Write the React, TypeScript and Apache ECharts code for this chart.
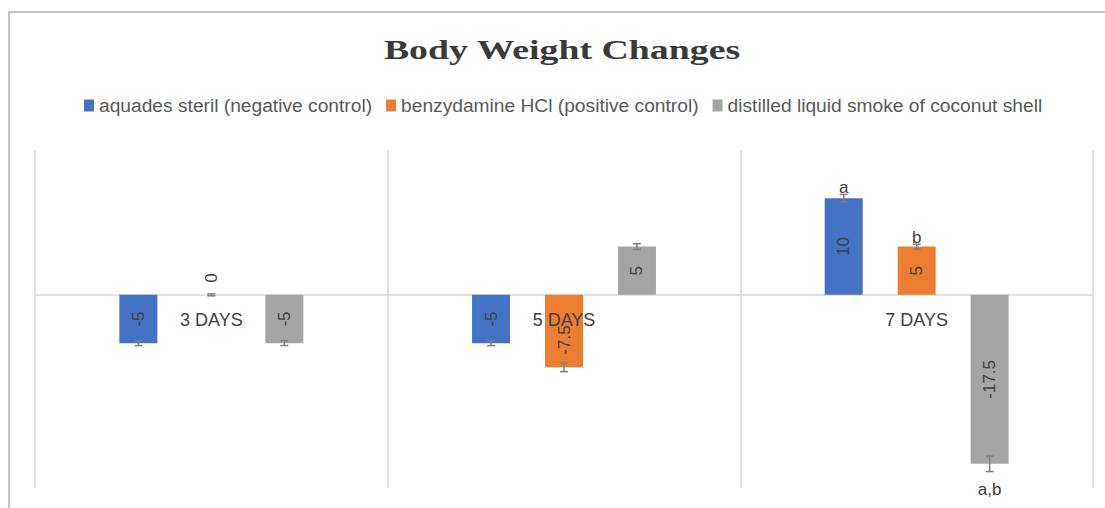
import React, { useEffect, useRef } from "react";
import * as echarts from "echarts";

const title = "Body Weight Changes";
const categories = ["3 DAYS", "5 DAYS", "7 DAYS"];
const seriesNames = [
  "aquades steril (negative control)",
  "benzydamine HCl (positive control)",
  "distilled liquid smoke of coconut shell",
];
const negativeControl = [-5, -5, 10];
const positiveControl = [0, -7.5, 5];
const liquidSmoke = [-5, 5, -17.5];
const negativeErr = [0.25, 0.25, 0.4];
const positiveErr = [0.1, 0.45, 0.25];
const smokeErr = [0.25, 0.3, 0.8];
const negativeNotes = ["", "", "a"];
const positiveNotes = ["", "", "b"];
const smokeNotes = ["", "", "a,b"];

const colors = ["#4472C4", "#ED7D31", "#A5A5A5"];
const BAR_W = 38;
const BAR_GAP = 0.92;

export default function App() {
  const ref = useRef<HTMLDivElement>(null);
  useEffect(() => {
    if (!ref.current) return;
    const chart = echarts.init(ref.current, null, { renderer: "svg" });
    const values = [negativeControl, positiveControl, liquidSmoke];
    const errs = [negativeErr, positiveErr, smokeErr];
    const notes = [negativeNotes, positiveNotes, smokeNotes];
    const rows: any[] = [];
    values.forEach((vals, si) =>
      vals.forEach((v, ci) => rows.push([ci, si, v, errs[si][ci], notes[si][ci]]))
    );
    const labelFont = { fontFamily: "Liberation Sans", fontSize: 17, color: "#404040" };
    const barSeries = values.map((vals, si) => ({
      type: "bar",
      name: seriesNames[si],
      barWidth: BAR_W,
      barGap: `${BAR_GAP * 100}%`,
      itemStyle: { color: colors[si] },
      z: 2,
      data: vals.map((v) => {
        if (v === 0) {
          return {
            value: v,
            label: { position: "top", distance: 12, align: "left", verticalAlign: "middle" },
          };
        }
        // label sitting under the category text is nudged down, as in the original
        if (v < 0 && si === 1) {
          return { value: v, label: { offset: [-9, 0] } };
        }
        return v;
      }),
      label: {
        show: true,
        position: "inside",
        rotate: 90,
        ...labelFont,
      },
    }));
    chart.setOption({
      animation: false,
      color: colors,
      legend: {
        top: 91,
        left: 79,
        itemWidth: 10,
        itemHeight: 12,
        itemGap: 14,
        itemTextGap: 4,
        icon: "rect",
        textStyle: { fontFamily: "Liberation Sans", fontSize: 19.2, color: "#595959" },
        data: seriesNames,
      },
      graphic: [
        {
          type: "rect",
          shape: { x: 9, y: 12, width: 1200, height: 600 },
          style: { fill: "none", stroke: "#c4c4c4", lineWidth: 2 },
          silent: true,
        },
        {
          type: "text",
          x: 562,
          y: 50,
          scaleX: 1.4,
          style: {
            text: title,
            align: "center",
            verticalAlign: "middle",
            fontFamily: "Liberation Serif",
            fontWeight: "bold",
            fontSize: 27,
            fill: "#3a3a3a",
          },
        },
      ],
      grid: { left: 35, right: 12, top: 150, bottom: 20, containLabel: false, outerBoundsMode: "none" },
      xAxis: {
        type: "category",
        data: categories,
        axisLine: { show: true, onZero: true, lineStyle: { color: "#d9d9d9", width: 1.5 } },
        axisTick: { show: false },
        splitLine: { show: true, lineStyle: { color: "#d9d9d9", width: 1.5 } },
        axisLabel: { show: false },
      },
      yAxis: {
        type: "value",
        min: -20,
        max: 15,
        interval: 5,
        show: false,
        splitLine: { show: false },
      },
      series: [
        ...barSeries,
        {
          type: "custom",
          name: "categoryLabels",
          z: 6,
          data: categories.map((c, i) => [i, 0]),
          renderItem: (params: any, api: any) => {
            const p = api.coord([api.value(0), api.value(1)]);
            return {
              type: "text",
              style: {
                text: categories[params.dataIndex],
                x: p[0],
                y: p[1] + 25,
                align: "center",
                verticalAlign: "middle",
                fontFamily: "Liberation Sans",
                fontSize: 18,
                fill: "#404040",
              },
            };
          },
        },
        {
          type: "custom",
          name: "errors",
          z: 5,
          data: rows,
          renderItem: (params: any, api: any) => {
            const row = rows[params.dataIndex];
            const ci = api.value(0);
            const si = api.value(1);
            const v = api.value(2);
            const e = api.value(3);
            const note = row[4];
            const center = api.coord([ci, v]);
            const x = center[0] + (si - 1) * BAR_W * (1 + BAR_GAP);
            const top = api.coord([ci, v + e])[1];
            const bot = api.coord([ci, v - e])[1];
            const st = { stroke: "#7f7f7f", lineWidth: 1.5 };
            const children: any[] = [
              { type: "line", shape: { x1: x, y1: top, x2: x, y2: bot }, style: st },
              { type: "line", shape: { x1: x - 4, y1: top, x2: x + 4, y2: top }, style: st },
              { type: "line", shape: { x1: x - 4, y1: bot, x2: x + 4, y2: bot }, style: st },
            ];
            if (note) {
              children.push({
                type: "text",
                style: {
                  text: note,
                  x,
                  y: v >= 0 ? top - 7 : bot + 18,
                  align: "center",
                  verticalAlign: "middle",
                  fontFamily: "Liberation Sans",
                  fontSize: 17,
                  fill: "#404040",
                },
              });
            }
            return { type: "group", children };
          },
        },
      ],
    });
    return () => chart.dispose();
  }, []);
  return (
    <div
      ref={ref}
      style={{ position: "fixed", left: 0, top: 0, width: 1105, height: 508, background: "#fff" }}
    />
  );
}
